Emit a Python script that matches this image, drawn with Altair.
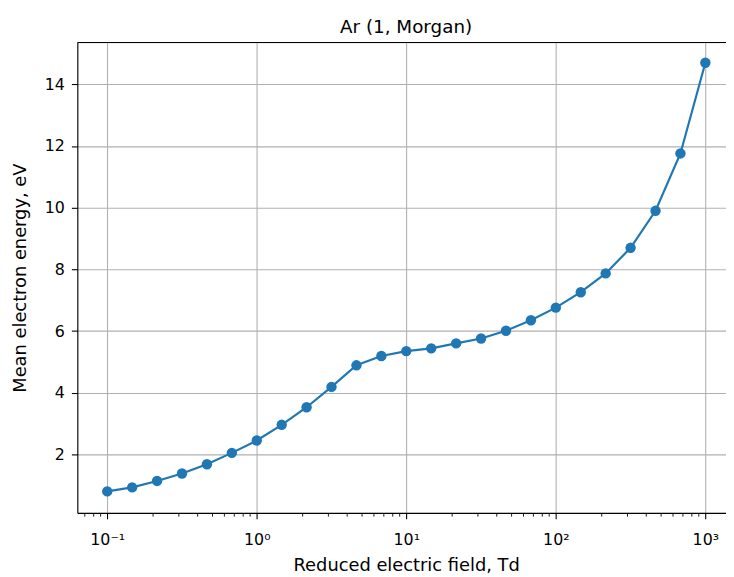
import altair as alt
import pandas as pd

# Reduced electric field (Td) and mean electron energy (eV)
field_td = [0.1, 0.1468, 0.2154, 0.3162, 0.4642, 0.6813,
            1.0, 1.468, 2.154, 3.162, 4.642, 6.813,
            10.0, 14.68, 21.54, 31.62, 46.42, 68.13,
            100.0, 146.8, 215.4, 316.2, 464.2, 681.3, 1000.0]
mean_energy = [0.80, 0.93, 1.14, 1.38, 1.68, 2.05,
               2.45, 2.96, 3.53, 4.19, 4.89, 5.19,
               5.35, 5.44, 5.60, 5.76, 6.01, 6.35,
               6.76, 7.26, 7.87, 8.70, 9.90, 11.76, 14.70]

major_ticks = [0.1, 1, 10, 100, 1000]
major_labels = ["10⁻¹", "10⁰", "10¹", "10²", "10³"]
minor_ticks = [0.07, 0.08, 0.09,
               0.2, 0.3, 0.4, 0.5, 0.6, 0.7, 0.8, 0.9,
               2, 3, 4, 5, 6, 7, 8, 9,
               20, 30, 40, 50, 60, 70, 80, 90,
               200, 300, 400, 500, 600, 700, 800, 900]
y_ticks = [2, 4, 6, 8, 10, 12, 14]
chart_title = ["Ar (1, Morgan)"]

df = pd.DataFrame({"E": field_td, "mean": mean_energy})

W, H = 655, 475
BLUE = "#1f77b4"
FONT = "DejaVu Sans"
GRID = "#b0b0b0"

xscale = alt.Scale(type="log", domain=[10 ** -1.2, 10 ** 3.138], nice=False)
yscale = alt.Scale(domain=[0.105, 15.36], nice=False, zero=False)

label_arr = "[" + ",".join("'" + s + "'" for s in major_labels) + "]"

major_x_axis = alt.Axis(
    values=major_ticks,
    labelExpr=label_arr + "[round(log(datum.value)/LN10)+1]",
    grid=True, gridColor=GRID, gridWidth=1.1, gridOpacity=1,
    tickSize=6, labelPadding=26, labelBaseline="alphabetic",
    labelFontSize=16, labelFont=FONT, labelColor="black",
    title="Reduced electric field, Td", titleFontSize=18, titleFont=FONT,
    titleFontWeight="normal", titleColor="black",
    titleX=332, titleY=58, titleBaseline="alphabetic", titleAlign="center",
    domain=True, domainColor="black", domainWidth=1.1,
    tickColor="black", tickWidth=1.1, orient="bottom",
)
minor_x_axis = alt.Axis(
    values=minor_ticks, labels=False, grid=False, domain=False,
    tickSize=3.3, tickColor="black", tickWidth=0.9, title=None,
    orient="bottom",
)
y_axis = alt.Axis(
    values=y_ticks, grid=True, gridColor=GRID, gridWidth=1.1, gridOpacity=1,
    tickSize=6, labelPadding=7,
    labelFontSize=16, labelFont=FONT, labelColor="black",
    title="Mean electron energy, eV", titleFontSize=18, titleFont=FONT,
    titleFontWeight="normal", titleColor="black",
    titleX=-52, titleY=H / 2, titleAngle=270, titleBaseline="alphabetic",
    titleAlign="center",
    domainColor="black", domainWidth=1.1, tickColor="black", tickWidth=1.1,
)

line = alt.Chart(df).mark_line(color=BLUE, strokeWidth=2.2).encode(
    x=alt.X("E:Q", scale=xscale, axis=major_x_axis),
    y=alt.Y("mean:Q", scale=yscale, axis=y_axis),
)
points = alt.Chart(df).mark_point(filled=True, size=110, opacity=1, color=BLUE).encode(
    x=alt.X("E:Q", scale=xscale, axis=minor_x_axis),
    y=alt.Y("mean:Q", scale=yscale, axis=y_axis),
)
top_rule = alt.Chart(pd.DataFrame({"a": [0]})).mark_rule(
    color="black", strokeWidth=1.1
).encode(x=alt.value(0), x2=alt.value(W), y=alt.value(0))

title_text = alt.Chart(pd.DataFrame({"t": chart_title})).mark_text(
    font=FONT, fontSize=18.5, color="black", align="center", baseline="alphabetic"
).encode(text="t:N", x=alt.value(332), y=alt.value(-10))

chart = (
    alt.layer(line, points, top_rule, title_text)
    .resolve_axis(x="independent")
    .properties(
        width=W, height=H,
        autosize=alt.AutoSizeParams(type="none"),
        padding={"left": 70, "top": 32, "right": 0, "bottom": 62},
    )
    .configure_view(stroke=None)
    .configure(background="white")
)

chart.save("out.html", embed_options={"renderer": "svg", "actions": False})
